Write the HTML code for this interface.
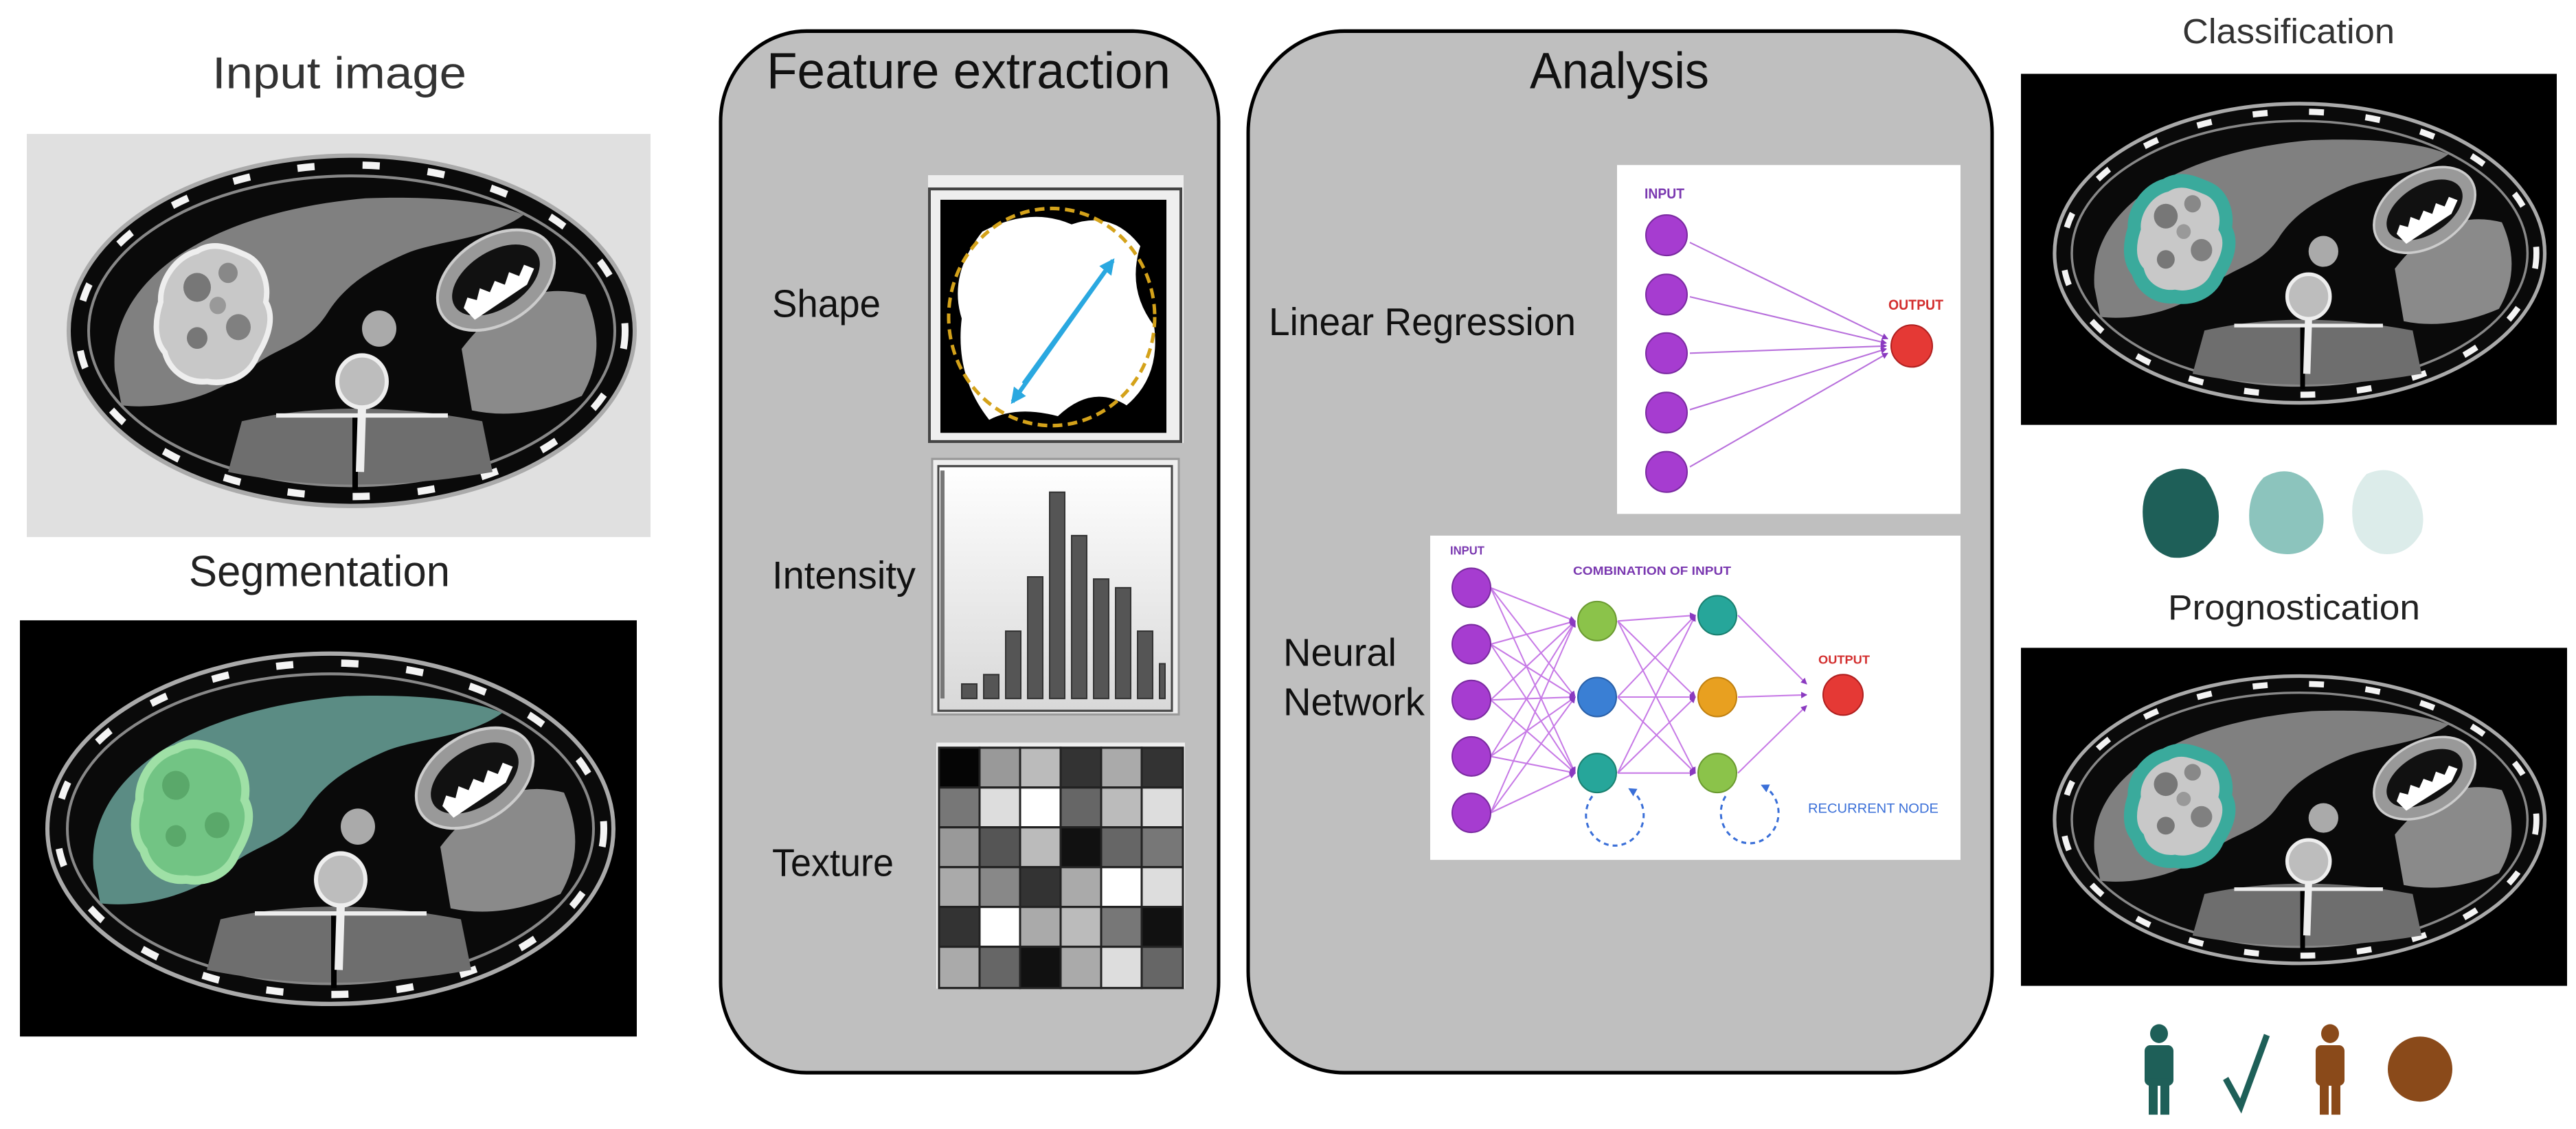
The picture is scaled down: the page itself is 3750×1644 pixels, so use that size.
<!DOCTYPE html>
<html><head><meta charset="utf-8"><style>html,body{margin:0;padding:0;background:#fff}svg{display:block}</style></head>
<body>
<svg xmlns="http://www.w3.org/2000/svg" xmlns:xlink="http://www.w3.org/1999/xlink" width="3750" height="1644" viewBox="0 0 3750 1644" font-family="Liberation Sans, sans-serif">
<defs>
<marker id="ap" markerWidth="9" markerHeight="9" refX="8" refY="4.5" orient="auto" markerUnits="userSpaceOnUse"><path d="M0,0 L9,4.5 L0,9 Z" fill="#8a3ac0"/></marker>
<marker id="ab" markerWidth="12" markerHeight="12" refX="10" refY="6" orient="auto" markerUnits="userSpaceOnUse"><path d="M0,0 L12,6 L0,12 Z" fill="#3a6fd8"/></marker>
<marker id="ac" markerWidth="22" markerHeight="22" refX="18" refY="11" orient="auto" markerUnits="userSpaceOnUse"><path d="M0,0 L22,11 L0,22 Z" fill="#2aa8e0"/></marker>
<path id="liver" d="M105,330 C95,200 250,110 470,92 C580,88 660,98 700,115 C650,150 570,150 525,170 C465,195 435,220 415,250 C385,295 345,295 305,325 C255,365 180,385 115,378 Z"/>
<path id="tumor" d="M225,165 C250,150 275,162 295,170 C320,180 330,210 325,235 C340,260 325,290 312,310 C300,340 265,350 240,345 C210,348 185,330 178,305 C160,285 165,255 172,235 C170,205 195,172 225,165 Z"/>
<g id="spots">
<circle cx="225" cy="215" r="20" fill="#777"/><circle cx="270" cy="195" r="14" fill="#888"/><circle cx="285" cy="270" r="18" fill="#808080"/><circle cx="225" cy="285" r="15" fill="#777"/><circle cx="255" cy="240" r="12" fill="#999"/>
</g>
<g id="body">
<ellipse cx="450" cy="275" rx="412" ry="242" fill="#0a0a0a" stroke="#aaa" stroke-width="6"/>
<ellipse cx="450" cy="275" rx="398" ry="229" fill="none" stroke="#f4f4f4" stroke-width="10" stroke-dasharray="25 70"/>
<ellipse cx="450" cy="275" rx="383" ry="214" fill="none" stroke="#888" stroke-width="4"/>
</g>
<g id="organs">
<path d="M290,400 Q450,365 640,400 L655,470 Q450,505 270,470 Z" fill="#6e6e6e"/>
<line x1="455" y1="390" x2="455" y2="495" stroke="#000" stroke-width="8"/>
<line x1="340" y1="392" x2="590" y2="392" stroke="#eee" stroke-width="6"/>
<circle cx="465" cy="345" r="36" fill="#bdbdbd" stroke="#eee" stroke-width="6"/>
<line x1="465" y1="380" x2="462" y2="470" stroke="#eee" stroke-width="12"/>
<circle cx="490" cy="272" r="25" fill="#aaa"/>
<path d="M610,300 Q690,200 790,225 Q825,300 785,365 Q700,400 625,385 Z" fill="#8a8a8a"/>
<g transform="rotate(-30 660 205)">
<ellipse cx="660" cy="205" rx="92" ry="60" fill="#999" stroke="#ccc" stroke-width="4"/>
<ellipse cx="660" cy="205" rx="70" ry="40" fill="#111"/>
<path d="M600,215 l12,-10 l10,10 l12,-12 l10,12 l14,-10 l10,12 l14,-12 l10,12 l14,-10 l10,12 l-20,14 l-90,4 Z" fill="#fff"/>
</g>
</g>
</defs>

<g transform="scale(1,1.054)">
<text x="309" y="122" font-size="62" fill="#333" textLength="370" lengthAdjust="spacingAndGlyphs">Input image</text>
<rect x="39" y="185" width="908" height="557" fill="#e0e0e0"/>
<g transform="translate(62,182)">
<use xlink:href="#body"/><use xlink:href="#liver" fill="#808080"/><use xlink:href="#organs"/>
<use xlink:href="#tumor" fill="#c8c8c8" stroke="#eee" stroke-width="8"/>
<use xlink:href="#spots"/>
</g>

<text x="275" y="810" font-size="60" fill="#222" textLength="380" lengthAdjust="spacingAndGlyphs">Segmentation</text>
<rect x="29" y="857" width="898" height="575" fill="#000"/>
<g transform="translate(31,870)">
<use xlink:href="#body"/><use xlink:href="#liver" fill="#5b8c84"/><use xlink:href="#organs"/>
<use xlink:href="#tumor" fill="#72c484" stroke="#9fe0a6" stroke-width="12"/>
<circle cx="225" cy="215" r="20" fill="#5aa86a"/><circle cx="285" cy="270" r="18" fill="#5aa86a"/><circle cx="225" cy="285" r="15" fill="#5aa86a"/>
</g>

<rect x="1049" y="43" width="725" height="1439" rx="125" fill="#bfbfbf" stroke="#000" stroke-width="5"/>
<text x="1116" y="122" font-size="70" fill="#111" textLength="588" lengthAdjust="spacingAndGlyphs">Feature extraction</text>
<text x="1124" y="438" font-size="54" fill="#111" textLength="158" lengthAdjust="spacingAndGlyphs">Shape</text>
<text x="1124" y="813" font-size="54" fill="#111" textLength="209" lengthAdjust="spacingAndGlyphs">Intensity</text>
<text x="1124" y="1210" font-size="54" fill="#111" textLength="177" lengthAdjust="spacingAndGlyphs">Texture</text>
<rect x="1351" y="242" width="372" height="370" fill="#eee"/>
<rect x="1353" y="261" width="366" height="349" fill="none" stroke="#444" stroke-width="4"/>
<rect x="1369" y="276" width="329" height="322" fill="#000"/>
<path d="M1430,320 Q1500,285 1560,310 Q1620,290 1660,340 Q1640,400 1680,450 Q1690,520 1640,560 Q1590,530 1540,575 Q1480,560 1440,580 Q1390,520 1400,440 Q1380,380 1430,320 Z" fill="#fff"/>
<circle cx="1531" cy="438" r="150" fill="none" stroke="#d4a21a" stroke-width="5" stroke-dasharray="14 8"/>
<line x1="1490" y1="530" x2="1620" y2="360" stroke="#2aa8e0" stroke-width="6" marker-end="url(#ac)"/>
<line x1="1620" y1="360" x2="1474" y2="555" stroke="#2aa8e0" stroke-width="6" marker-end="url(#ac)"/>
<defs><linearGradient id="hg" x1="0" y1="0" x2="0" y2="1"><stop offset="0" stop-color="#fff"/><stop offset="1" stop-color="#d8d8d8"/></linearGradient></defs>
<rect x="1357" y="634" width="359" height="353" fill="#eee" stroke="#999" stroke-width="3"/>
<rect x="1366" y="644" width="340" height="338" fill="url(#hg)" stroke="#444" stroke-width="3"/>
<line x1="1372" y1="650" x2="1372" y2="965" stroke="#777" stroke-width="6"/>
<g fill="#555" stroke="#333" stroke-width="2">
<rect x="1400" y="945" width="22" height="20"/><rect x="1432" y="932" width="22" height="33"/>
<rect x="1464" y="872" width="22" height="93"/><rect x="1496" y="797" width="22" height="168"/>
<rect x="1528" y="680" width="22" height="285"/><rect x="1560" y="740" width="22" height="225"/>
<rect x="1592" y="800" width="22" height="165"/><rect x="1624" y="812" width="22" height="153"/>
<rect x="1656" y="872" width="22" height="93"/><rect x="1688" y="917" width="8" height="48"/>
</g>
<rect x="1363" y="1026" width="362" height="340" fill="#eee"/>
<rect x="1367" y="1033" width="355" height="332" fill="#000"/>
<g stroke="#222" stroke-width="3">
<rect x="1367" y="1033" width="59" height="55" fill="#050505"/><rect x="1426" y="1033" width="59" height="55" fill="#999"/><rect x="1485" y="1033" width="59" height="55" fill="#bbb"/><rect x="1544" y="1033" width="59" height="55" fill="#333"/><rect x="1603" y="1033" width="59" height="55" fill="#aaa"/><rect x="1662" y="1033" width="60" height="55" fill="#333"/>
<rect x="1367" y="1088" width="59" height="55" fill="#777"/><rect x="1426" y="1088" width="59" height="55" fill="#ddd"/><rect x="1485" y="1088" width="59" height="55" fill="#fff"/><rect x="1544" y="1088" width="59" height="55" fill="#666"/><rect x="1603" y="1088" width="59" height="55" fill="#bbb"/><rect x="1662" y="1088" width="60" height="55" fill="#ddd"/>
<rect x="1367" y="1143" width="59" height="55" fill="#999"/><rect x="1426" y="1143" width="59" height="55" fill="#555"/><rect x="1485" y="1143" width="59" height="55" fill="#bbb"/><rect x="1544" y="1143" width="59" height="55" fill="#111"/><rect x="1603" y="1143" width="59" height="55" fill="#666"/><rect x="1662" y="1143" width="60" height="55" fill="#777"/>
<rect x="1367" y="1198" width="59" height="55" fill="#aaa"/><rect x="1426" y="1198" width="59" height="55" fill="#888"/><rect x="1485" y="1198" width="59" height="55" fill="#333"/><rect x="1544" y="1198" width="59" height="55" fill="#aaa"/><rect x="1603" y="1198" width="59" height="55" fill="#fff"/><rect x="1662" y="1198" width="60" height="55" fill="#ddd"/>
<rect x="1367" y="1253" width="59" height="55" fill="#333"/><rect x="1426" y="1253" width="59" height="55" fill="#fff"/><rect x="1485" y="1253" width="59" height="55" fill="#aaa"/><rect x="1544" y="1253" width="59" height="55" fill="#bbb"/><rect x="1603" y="1253" width="59" height="55" fill="#777"/><rect x="1662" y="1253" width="60" height="55" fill="#111"/>
<rect x="1367" y="1308" width="59" height="57" fill="#aaa"/><rect x="1426" y="1308" width="59" height="57" fill="#666"/><rect x="1485" y="1308" width="59" height="57" fill="#111"/><rect x="1544" y="1308" width="59" height="57" fill="#aaa"/><rect x="1603" y="1308" width="59" height="57" fill="#ddd"/><rect x="1662" y="1308" width="60" height="57" fill="#666"/>
</g>

<rect x="1817" y="43" width="1083" height="1439" rx="140" fill="#bfbfbf" stroke="#000" stroke-width="5"/>
<text x="2227" y="122" font-size="70" fill="#111" textLength="261" lengthAdjust="spacingAndGlyphs">Analysis</text>
<text x="1847" y="463" font-size="54" fill="#111" textLength="447" lengthAdjust="spacingAndGlyphs">Linear Regression</text>
<text x="1868" y="920" font-size="54" fill="#111" textLength="165" lengthAdjust="spacingAndGlyphs">Neural</text>
<text x="1868" y="988" font-size="54" fill="#111" textLength="206" lengthAdjust="spacingAndGlyphs">Network</text>

<rect x="2354" y="228" width="500" height="482" fill="#fff"/>
<text x="2394" y="274" font-size="20" font-weight="bold" fill="#7a38b0" textLength="58" lengthAdjust="spacingAndGlyphs">INPUT</text>
<text x="2749" y="428" font-size="20" font-weight="bold" fill="#d32f2f" textLength="80" lengthAdjust="spacingAndGlyphs">OUTPUT</text>
<g stroke="#b870dc" stroke-width="2" fill="none" marker-end="url(#ap)">
<line x1="2460" y1="335" x2="2748" y2="468"/><line x1="2460" y1="410" x2="2746" y2="474"/><line x1="2460" y1="488" x2="2746" y2="478"/><line x1="2460" y1="566" x2="2746" y2="482"/><line x1="2460" y1="645" x2="2748" y2="488"/>
</g>
<g fill="#a63cd0" stroke="#7a2aa0" stroke-width="2"><ellipse cx="2426" cy="325" rx="30" ry="28"/><ellipse cx="2426" cy="407" rx="30" ry="28"/><ellipse cx="2426" cy="488" rx="30" ry="28"/><ellipse cx="2426" cy="570" rx="30" ry="28"/><ellipse cx="2426" cy="652" rx="30" ry="28"/></g>
<ellipse cx="2783" cy="478" rx="30" ry="29" fill="#e53935" stroke="#b02020" stroke-width="2"/>

<rect x="2082" y="740" width="772" height="448" fill="#fff"/>
<text x="2111" y="766" font-size="17" font-weight="bold" fill="#7a38b0" textLength="50" lengthAdjust="spacingAndGlyphs">INPUT</text>
<text x="2290" y="794" font-size="17" font-weight="bold" fill="#7a38b0" textLength="230" lengthAdjust="spacingAndGlyphs">COMBINATION OF INPUT</text>
<text x="2647" y="917" font-size="17" font-weight="bold" fill="#d32f2f" textLength="75" lengthAdjust="spacingAndGlyphs">OUTPUT</text>
<text x="2632" y="1123" font-size="18" fill="#3a6fd8" textLength="190" lengthAdjust="spacingAndGlyphs">RECURRENT NODE</text>
<g stroke="#c77ae6" stroke-width="2" fill="none" marker-end="url(#ap)">
<line x1="2170" y1="812" x2="2293" y2="858"/><line x1="2170" y1="812" x2="2293" y2="963"/><line x1="2170" y1="812" x2="2293" y2="1068"/>
<line x1="2170" y1="890" x2="2293" y2="858"/><line x1="2170" y1="890" x2="2293" y2="963"/><line x1="2170" y1="890" x2="2293" y2="1068"/>
<line x1="2170" y1="967" x2="2293" y2="858"/><line x1="2170" y1="967" x2="2293" y2="963"/><line x1="2170" y1="967" x2="2293" y2="1068"/>
<line x1="2170" y1="1045" x2="2293" y2="858"/><line x1="2170" y1="1045" x2="2293" y2="963"/><line x1="2170" y1="1045" x2="2293" y2="1068"/>
<line x1="2170" y1="1123" x2="2293" y2="858"/><line x1="2170" y1="1123" x2="2293" y2="963"/><line x1="2170" y1="1123" x2="2293" y2="1068"/>
<line x1="2355" y1="858" x2="2468" y2="850"/><line x1="2355" y1="858" x2="2468" y2="963"/><line x1="2355" y1="858" x2="2468" y2="1068"/>
<line x1="2355" y1="963" x2="2468" y2="850"/><line x1="2355" y1="963" x2="2468" y2="963"/><line x1="2355" y1="963" x2="2468" y2="1068"/>
<line x1="2355" y1="1068" x2="2468" y2="850"/><line x1="2355" y1="1068" x2="2468" y2="963"/><line x1="2355" y1="1068" x2="2468" y2="1068"/>
<line x1="2530" y1="850" x2="2630" y2="945"/><line x1="2530" y1="963" x2="2630" y2="960"/><line x1="2530" y1="1068" x2="2630" y2="975"/>
</g>
<g fill="#a63cd0" stroke="#7a2aa0" stroke-width="2"><ellipse cx="2142" cy="812" rx="28" ry="27"/><ellipse cx="2142" cy="890" rx="28" ry="27"/><ellipse cx="2142" cy="967" rx="28" ry="27"/><ellipse cx="2142" cy="1045" rx="28" ry="27"/><ellipse cx="2142" cy="1123" rx="28" ry="27"/></g>
<ellipse cx="2325" cy="858" rx="28" ry="27" fill="#8bc34a" stroke="#6a9a30" stroke-width="2"/>
<ellipse cx="2325" cy="963" rx="28" ry="27" fill="#3a7fd4" stroke="#2a60a8" stroke-width="2"/>
<ellipse cx="2325" cy="1068" rx="28" ry="27" fill="#26a69a" stroke="#1a8070" stroke-width="2"/>
<ellipse cx="2500" cy="850" rx="28" ry="27" fill="#26a69a" stroke="#1a8070" stroke-width="2"/>
<ellipse cx="2500" cy="963" rx="28" ry="27" fill="#e8a020" stroke="#c08010" stroke-width="2"/>
<ellipse cx="2500" cy="1068" rx="28" ry="27" fill="#8bc34a" stroke="#6a9a30" stroke-width="2"/>
<ellipse cx="2683" cy="960" rx="29" ry="28" fill="#e53935" stroke="#b02020" stroke-width="2"/>
<g fill="none" stroke="#3a6fd8" stroke-width="3" stroke-dasharray="7 6">
<path d="M2318,1100 A42,42 0 1 0 2372,1090" marker-end="url(#ab)"/>
<path d="M2512,1100 A42,42 0 1 0 2565,1085" marker-end="url(#ab)"/>
</g>

<text x="3177" y="60" font-size="48" fill="#333" textLength="309" lengthAdjust="spacingAndGlyphs">Classification</text>
<rect x="2942" y="102" width="780" height="485" fill="#000"/>
<g transform="translate(2958,115) scale(0.866,0.854)">
<use xlink:href="#body"/><use xlink:href="#liver" fill="#808080"/><use xlink:href="#organs"/>
<use xlink:href="#tumor" fill="#c8c8c8" stroke="#3aaa9c" stroke-width="22"/>
<use xlink:href="#spots"/>
</g>
<path d="M3140,660 Q3180,635 3210,660 Q3240,700 3225,740 Q3200,775 3160,770 Q3125,760 3120,720 Q3115,680 3140,660 Z" fill="#1e5f58"/>
<path d="M3295,660 Q3330,640 3360,665 Q3390,700 3380,735 Q3360,770 3320,765 Q3285,760 3275,725 Q3270,685 3295,660 Z" fill="#8cc4bd"/>
<path d="M3445,655 Q3480,640 3505,665 Q3535,700 3525,735 Q3505,770 3465,765 Q3430,755 3425,720 Q3420,680 3445,655 Z" fill="#dcecea"/>

<text x="3156" y="856" font-size="48" fill="#222" textLength="367" lengthAdjust="spacingAndGlyphs">Prognostication</text>
<rect x="2942" y="895" width="795" height="467" fill="#000"/>
<g transform="translate(2958,907) scale(0.866,0.82)">
<use xlink:href="#body"/><use xlink:href="#liver" fill="#808080"/><use xlink:href="#organs"/>
<use xlink:href="#tumor" fill="#c8c8c8" stroke="#3aaa9c" stroke-width="22"/>
<use xlink:href="#spots"/>
</g>
<g fill="#1e5f58">
<circle cx="3143" cy="1428" r="13"/>
<rect x="3122" y="1444" width="42" height="56" rx="8"/>
<rect x="3128" y="1490" width="13" height="50"/><rect x="3145" y="1490" width="13" height="50"/>
</g>
<path d="M3240,1490 L3262,1528 L3300,1430" fill="none" stroke="#1e5f58" stroke-width="9"/>
<g fill="#8a4a1a">
<circle cx="3392" cy="1428" r="13"/>
<rect x="3371" y="1444" width="42" height="56" rx="8"/>
<rect x="3377" y="1490" width="13" height="50"/><rect x="3394" y="1490" width="13" height="50"/>
</g>
<ellipse cx="3523" cy="1477" rx="47" ry="45" fill="#8a4a1a"/>
</g>
</svg>
</body></html>
